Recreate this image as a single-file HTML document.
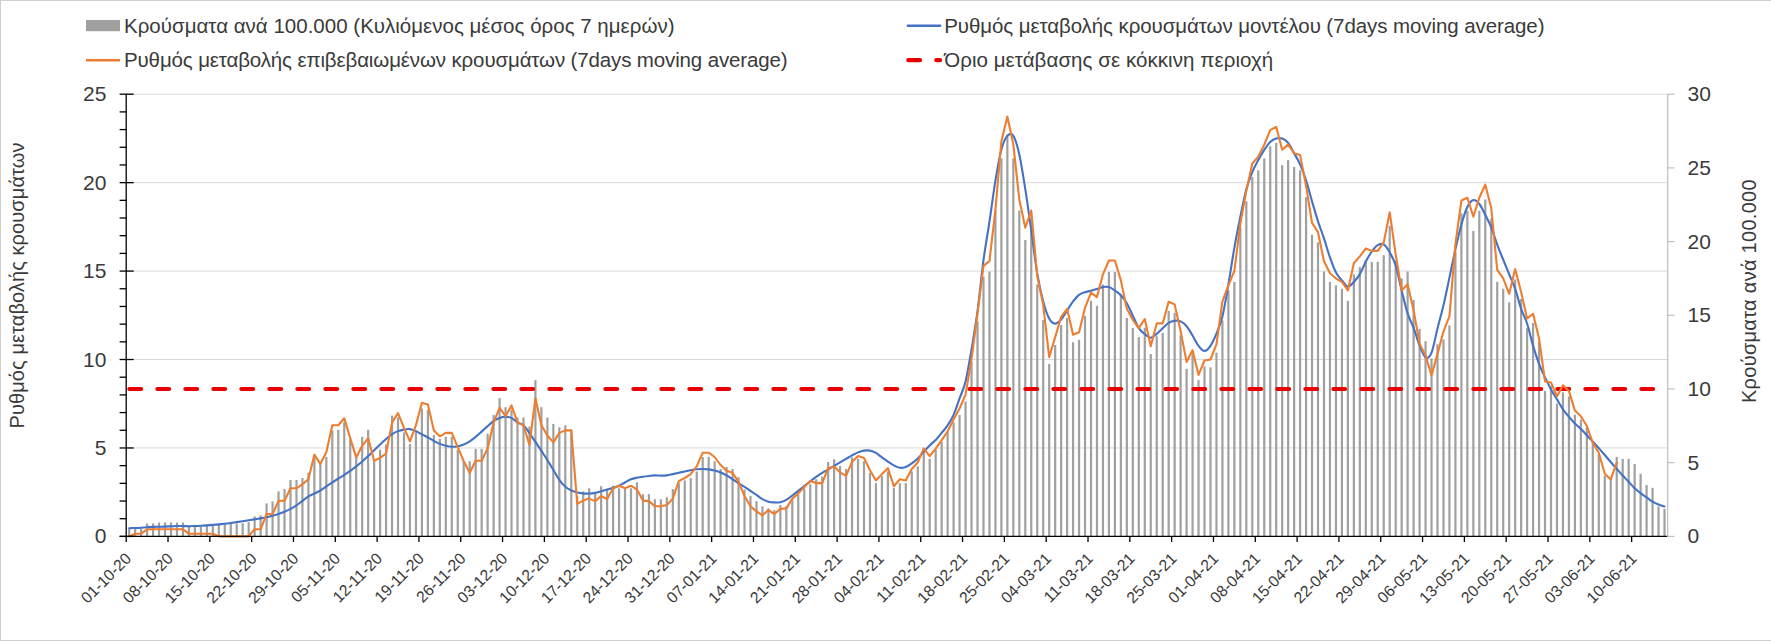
<!DOCTYPE html>
<html><head><meta charset="utf-8"><style>
html,body{margin:0;padding:0;background:#fff;}
body{width:1771px;height:641px;overflow:hidden;position:relative;}
.frame{position:absolute;left:0;top:0;width:1771px;height:641px;box-sizing:border-box;border-top:1px solid #CFCFCF;border-left:1px solid #CFCFCF;border-bottom:1px solid #CFCFCF;}
svg{position:absolute;left:0;top:0;font-family:"Liberation Sans", sans-serif;}
</style></head><body>
<div class="frame"></div>
<svg width="1771" height="641" viewBox="0 0 1771 641">
<line x1="126.20" y1="447.96" x2="1667.49" y2="447.96" stroke="#D9D9D9" stroke-width="1"/>
<line x1="126.20" y1="359.52" x2="1667.49" y2="359.52" stroke="#D9D9D9" stroke-width="1"/>
<line x1="126.20" y1="271.08" x2="1667.49" y2="271.08" stroke="#D9D9D9" stroke-width="1"/>
<line x1="126.20" y1="182.64" x2="1667.49" y2="182.64" stroke="#D9D9D9" stroke-width="1"/>
<line x1="126.20" y1="94.20" x2="1667.49" y2="94.20" stroke="#D9D9D9" stroke-width="1"/>
<rect x="128.09" y="528.80" width="2.2" height="7.60" fill="#A0A0A0"/>
<rect x="134.06" y="528.80" width="2.2" height="7.60" fill="#A0A0A0"/>
<rect x="140.03" y="528.80" width="2.2" height="7.60" fill="#A0A0A0"/>
<rect x="146.01" y="523.50" width="2.2" height="12.90" fill="#A0A0A0"/>
<rect x="151.98" y="523.50" width="2.2" height="12.90" fill="#A0A0A0"/>
<rect x="157.96" y="522.50" width="2.2" height="13.90" fill="#A0A0A0"/>
<rect x="163.93" y="522.50" width="2.2" height="13.90" fill="#A0A0A0"/>
<rect x="169.91" y="522.50" width="2.2" height="13.90" fill="#A0A0A0"/>
<rect x="175.88" y="522.50" width="2.2" height="13.90" fill="#A0A0A0"/>
<rect x="181.85" y="522.50" width="2.2" height="13.90" fill="#A0A0A0"/>
<rect x="187.83" y="526.40" width="2.2" height="10.00" fill="#A0A0A0"/>
<rect x="193.80" y="526.40" width="2.2" height="10.00" fill="#A0A0A0"/>
<rect x="199.78" y="526.40" width="2.2" height="10.00" fill="#A0A0A0"/>
<rect x="205.75" y="525.50" width="2.2" height="10.90" fill="#A0A0A0"/>
<rect x="211.72" y="525.50" width="2.2" height="10.90" fill="#A0A0A0"/>
<rect x="217.70" y="524.90" width="2.2" height="11.50" fill="#A0A0A0"/>
<rect x="223.67" y="524.40" width="2.2" height="12.00" fill="#A0A0A0"/>
<rect x="229.65" y="523.80" width="2.2" height="12.60" fill="#A0A0A0"/>
<rect x="235.62" y="523.60" width="2.2" height="12.80" fill="#A0A0A0"/>
<rect x="241.59" y="523.30" width="2.2" height="13.10" fill="#A0A0A0"/>
<rect x="247.57" y="522.20" width="2.2" height="14.20" fill="#A0A0A0"/>
<rect x="253.54" y="516.40" width="2.2" height="20.00" fill="#A0A0A0"/>
<rect x="259.51" y="515.30" width="2.2" height="21.10" fill="#A0A0A0"/>
<rect x="265.49" y="503.40" width="2.2" height="33.00" fill="#A0A0A0"/>
<rect x="271.46" y="501.40" width="2.2" height="35.00" fill="#A0A0A0"/>
<rect x="277.44" y="491.40" width="2.2" height="45.00" fill="#A0A0A0"/>
<rect x="283.41" y="489.00" width="2.2" height="47.40" fill="#A0A0A0"/>
<rect x="289.38" y="480.00" width="2.2" height="56.40" fill="#A0A0A0"/>
<rect x="295.36" y="480.00" width="2.2" height="56.40" fill="#A0A0A0"/>
<rect x="301.33" y="478.00" width="2.2" height="58.40" fill="#A0A0A0"/>
<rect x="307.31" y="472.80" width="2.2" height="63.60" fill="#A0A0A0"/>
<rect x="313.28" y="454.30" width="2.2" height="82.10" fill="#A0A0A0"/>
<rect x="319.25" y="463.80" width="2.2" height="72.60" fill="#A0A0A0"/>
<rect x="325.23" y="456.90" width="2.2" height="79.50" fill="#A0A0A0"/>
<rect x="331.20" y="430.40" width="2.2" height="106.00" fill="#A0A0A0"/>
<rect x="337.18" y="429.80" width="2.2" height="106.60" fill="#A0A0A0"/>
<rect x="343.15" y="422.10" width="2.2" height="114.30" fill="#A0A0A0"/>
<rect x="349.12" y="439.40" width="2.2" height="97.00" fill="#A0A0A0"/>
<rect x="355.10" y="457.40" width="2.2" height="79.00" fill="#A0A0A0"/>
<rect x="361.07" y="436.80" width="2.2" height="99.60" fill="#A0A0A0"/>
<rect x="367.05" y="429.80" width="2.2" height="106.60" fill="#A0A0A0"/>
<rect x="373.02" y="460.00" width="2.2" height="76.40" fill="#A0A0A0"/>
<rect x="379.00" y="449.70" width="2.2" height="86.70" fill="#A0A0A0"/>
<rect x="384.97" y="444.50" width="2.2" height="91.90" fill="#A0A0A0"/>
<rect x="390.94" y="415.70" width="2.2" height="120.70" fill="#A0A0A0"/>
<rect x="396.92" y="417.40" width="2.2" height="119.00" fill="#A0A0A0"/>
<rect x="402.89" y="432.40" width="2.2" height="104.00" fill="#A0A0A0"/>
<rect x="408.86" y="444.00" width="2.2" height="92.40" fill="#A0A0A0"/>
<rect x="414.84" y="431.60" width="2.2" height="104.80" fill="#A0A0A0"/>
<rect x="420.81" y="408.40" width="2.2" height="128.00" fill="#A0A0A0"/>
<rect x="426.79" y="409.80" width="2.2" height="126.60" fill="#A0A0A0"/>
<rect x="432.76" y="435.00" width="2.2" height="101.40" fill="#A0A0A0"/>
<rect x="438.73" y="438.80" width="2.2" height="97.60" fill="#A0A0A0"/>
<rect x="444.71" y="436.80" width="2.2" height="99.60" fill="#A0A0A0"/>
<rect x="450.68" y="436.80" width="2.2" height="99.60" fill="#A0A0A0"/>
<rect x="456.66" y="449.70" width="2.2" height="86.70" fill="#A0A0A0"/>
<rect x="462.63" y="461.20" width="2.2" height="75.20" fill="#A0A0A0"/>
<rect x="468.60" y="461.20" width="2.2" height="75.20" fill="#A0A0A0"/>
<rect x="474.58" y="448.90" width="2.2" height="87.50" fill="#A0A0A0"/>
<rect x="480.55" y="448.90" width="2.2" height="87.50" fill="#A0A0A0"/>
<rect x="486.53" y="433.70" width="2.2" height="102.70" fill="#A0A0A0"/>
<rect x="492.50" y="414.90" width="2.2" height="121.50" fill="#A0A0A0"/>
<rect x="498.47" y="398.20" width="2.2" height="138.20" fill="#A0A0A0"/>
<rect x="504.45" y="407.20" width="2.2" height="129.20" fill="#A0A0A0"/>
<rect x="510.42" y="409.80" width="2.2" height="126.60" fill="#A0A0A0"/>
<rect x="516.40" y="417.50" width="2.2" height="118.90" fill="#A0A0A0"/>
<rect x="522.37" y="417.50" width="2.2" height="118.90" fill="#A0A0A0"/>
<rect x="528.35" y="426.50" width="2.2" height="109.90" fill="#A0A0A0"/>
<rect x="534.32" y="380.20" width="2.2" height="156.20" fill="#A0A0A0"/>
<rect x="540.29" y="407.20" width="2.2" height="129.20" fill="#A0A0A0"/>
<rect x="546.27" y="417.50" width="2.2" height="118.90" fill="#A0A0A0"/>
<rect x="552.24" y="423.90" width="2.2" height="112.50" fill="#A0A0A0"/>
<rect x="558.22" y="427.30" width="2.2" height="109.10" fill="#A0A0A0"/>
<rect x="564.19" y="425.20" width="2.2" height="111.20" fill="#A0A0A0"/>
<rect x="570.16" y="429.60" width="2.2" height="106.80" fill="#A0A0A0"/>
<rect x="576.14" y="496.00" width="2.2" height="40.40" fill="#A0A0A0"/>
<rect x="582.11" y="491.40" width="2.2" height="45.00" fill="#A0A0A0"/>
<rect x="588.09" y="488.30" width="2.2" height="48.10" fill="#A0A0A0"/>
<rect x="594.06" y="493.40" width="2.2" height="43.00" fill="#A0A0A0"/>
<rect x="600.03" y="486.20" width="2.2" height="50.20" fill="#A0A0A0"/>
<rect x="606.01" y="489.60" width="2.2" height="46.80" fill="#A0A0A0"/>
<rect x="611.98" y="485.70" width="2.2" height="50.70" fill="#A0A0A0"/>
<rect x="617.96" y="488.30" width="2.2" height="48.10" fill="#A0A0A0"/>
<rect x="623.93" y="488.30" width="2.2" height="48.10" fill="#A0A0A0"/>
<rect x="629.90" y="488.30" width="2.2" height="48.10" fill="#A0A0A0"/>
<rect x="635.88" y="482.40" width="2.2" height="54.00" fill="#A0A0A0"/>
<rect x="641.85" y="494.20" width="2.2" height="42.20" fill="#A0A0A0"/>
<rect x="647.83" y="494.20" width="2.2" height="42.20" fill="#A0A0A0"/>
<rect x="653.80" y="499.30" width="2.2" height="37.10" fill="#A0A0A0"/>
<rect x="659.77" y="499.30" width="2.2" height="37.10" fill="#A0A0A0"/>
<rect x="665.75" y="497.30" width="2.2" height="39.10" fill="#A0A0A0"/>
<rect x="671.72" y="489.00" width="2.2" height="47.40" fill="#A0A0A0"/>
<rect x="677.70" y="483.10" width="2.2" height="53.30" fill="#A0A0A0"/>
<rect x="683.67" y="480.50" width="2.2" height="55.90" fill="#A0A0A0"/>
<rect x="689.64" y="478.00" width="2.2" height="58.40" fill="#A0A0A0"/>
<rect x="695.62" y="471.50" width="2.2" height="64.90" fill="#A0A0A0"/>
<rect x="701.59" y="456.90" width="2.2" height="79.50" fill="#A0A0A0"/>
<rect x="707.57" y="456.90" width="2.2" height="79.50" fill="#A0A0A0"/>
<rect x="713.54" y="461.20" width="2.2" height="75.20" fill="#A0A0A0"/>
<rect x="719.51" y="469.00" width="2.2" height="67.40" fill="#A0A0A0"/>
<rect x="725.49" y="466.90" width="2.2" height="69.50" fill="#A0A0A0"/>
<rect x="731.46" y="469.00" width="2.2" height="67.40" fill="#A0A0A0"/>
<rect x="737.44" y="477.20" width="2.2" height="59.20" fill="#A0A0A0"/>
<rect x="743.41" y="489.60" width="2.2" height="46.80" fill="#A0A0A0"/>
<rect x="749.38" y="496.00" width="2.2" height="40.40" fill="#A0A0A0"/>
<rect x="755.36" y="501.10" width="2.2" height="35.30" fill="#A0A0A0"/>
<rect x="761.33" y="506.30" width="2.2" height="30.10" fill="#A0A0A0"/>
<rect x="767.31" y="508.40" width="2.2" height="28.00" fill="#A0A0A0"/>
<rect x="773.28" y="510.10" width="2.2" height="26.30" fill="#A0A0A0"/>
<rect x="779.25" y="505.00" width="2.2" height="31.40" fill="#A0A0A0"/>
<rect x="785.23" y="506.30" width="2.2" height="30.10" fill="#A0A0A0"/>
<rect x="791.20" y="498.60" width="2.2" height="37.80" fill="#A0A0A0"/>
<rect x="797.18" y="494.70" width="2.2" height="41.70" fill="#A0A0A0"/>
<rect x="803.15" y="488.30" width="2.2" height="48.10" fill="#A0A0A0"/>
<rect x="809.12" y="484.40" width="2.2" height="52.00" fill="#A0A0A0"/>
<rect x="815.10" y="479.30" width="2.2" height="57.10" fill="#A0A0A0"/>
<rect x="821.07" y="476.70" width="2.2" height="59.70" fill="#A0A0A0"/>
<rect x="827.05" y="462.00" width="2.2" height="74.40" fill="#A0A0A0"/>
<rect x="833.02" y="459.20" width="2.2" height="77.20" fill="#A0A0A0"/>
<rect x="838.99" y="465.90" width="2.2" height="70.50" fill="#A0A0A0"/>
<rect x="844.97" y="469.00" width="2.2" height="67.40" fill="#A0A0A0"/>
<rect x="850.94" y="457.40" width="2.2" height="79.00" fill="#A0A0A0"/>
<rect x="856.92" y="458.70" width="2.2" height="77.70" fill="#A0A0A0"/>
<rect x="862.89" y="461.20" width="2.2" height="75.20" fill="#A0A0A0"/>
<rect x="868.86" y="472.80" width="2.2" height="63.60" fill="#A0A0A0"/>
<rect x="874.84" y="483.10" width="2.2" height="53.30" fill="#A0A0A0"/>
<rect x="880.81" y="476.20" width="2.2" height="60.20" fill="#A0A0A0"/>
<rect x="886.79" y="471.50" width="2.2" height="64.90" fill="#A0A0A0"/>
<rect x="892.76" y="487.80" width="2.2" height="48.60" fill="#A0A0A0"/>
<rect x="898.73" y="483.10" width="2.2" height="53.30" fill="#A0A0A0"/>
<rect x="904.71" y="483.10" width="2.2" height="53.30" fill="#A0A0A0"/>
<rect x="910.68" y="471.50" width="2.2" height="64.90" fill="#A0A0A0"/>
<rect x="916.66" y="466.40" width="2.2" height="70.00" fill="#A0A0A0"/>
<rect x="922.63" y="452.20" width="2.2" height="84.20" fill="#A0A0A0"/>
<rect x="928.60" y="458.70" width="2.2" height="77.70" fill="#A0A0A0"/>
<rect x="934.58" y="449.70" width="2.2" height="86.70" fill="#A0A0A0"/>
<rect x="940.55" y="441.80" width="2.2" height="94.60" fill="#A0A0A0"/>
<rect x="946.53" y="431.50" width="2.2" height="104.90" fill="#A0A0A0"/>
<rect x="952.50" y="422.30" width="2.2" height="114.10" fill="#A0A0A0"/>
<rect x="958.47" y="415.10" width="2.2" height="121.30" fill="#A0A0A0"/>
<rect x="964.45" y="401.40" width="2.2" height="135.00" fill="#A0A0A0"/>
<rect x="970.42" y="361.40" width="2.2" height="175.00" fill="#A0A0A0"/>
<rect x="976.40" y="321.40" width="2.2" height="215.00" fill="#A0A0A0"/>
<rect x="982.37" y="276.70" width="2.2" height="259.70" fill="#A0A0A0"/>
<rect x="988.34" y="271.60" width="2.2" height="264.80" fill="#A0A0A0"/>
<rect x="994.32" y="210.50" width="2.2" height="325.90" fill="#A0A0A0"/>
<rect x="1000.29" y="158.40" width="2.2" height="378.00" fill="#A0A0A0"/>
<rect x="1006.27" y="134.40" width="2.2" height="402.00" fill="#A0A0A0"/>
<rect x="1012.24" y="158.40" width="2.2" height="378.00" fill="#A0A0A0"/>
<rect x="1018.21" y="210.50" width="2.2" height="325.90" fill="#A0A0A0"/>
<rect x="1024.19" y="240.00" width="2.2" height="296.40" fill="#A0A0A0"/>
<rect x="1030.16" y="221.80" width="2.2" height="314.60" fill="#A0A0A0"/>
<rect x="1036.14" y="284.40" width="2.2" height="252.00" fill="#A0A0A0"/>
<rect x="1042.11" y="320.00" width="2.2" height="216.40" fill="#A0A0A0"/>
<rect x="1048.08" y="364.00" width="2.2" height="172.40" fill="#A0A0A0"/>
<rect x="1054.06" y="344.90" width="2.2" height="191.50" fill="#A0A0A0"/>
<rect x="1060.03" y="325.00" width="2.2" height="211.40" fill="#A0A0A0"/>
<rect x="1066.01" y="318.00" width="2.2" height="218.40" fill="#A0A0A0"/>
<rect x="1071.98" y="342.30" width="2.2" height="194.10" fill="#A0A0A0"/>
<rect x="1077.95" y="339.90" width="2.2" height="196.50" fill="#A0A0A0"/>
<rect x="1083.93" y="315.90" width="2.2" height="220.50" fill="#A0A0A0"/>
<rect x="1089.90" y="300.70" width="2.2" height="235.70" fill="#A0A0A0"/>
<rect x="1095.88" y="305.80" width="2.2" height="230.60" fill="#A0A0A0"/>
<rect x="1101.85" y="284.50" width="2.2" height="251.90" fill="#A0A0A0"/>
<rect x="1107.82" y="271.90" width="2.2" height="264.50" fill="#A0A0A0"/>
<rect x="1113.80" y="271.90" width="2.2" height="264.50" fill="#A0A0A0"/>
<rect x="1119.77" y="294.60" width="2.2" height="241.80" fill="#A0A0A0"/>
<rect x="1125.75" y="318.00" width="2.2" height="218.40" fill="#A0A0A0"/>
<rect x="1131.72" y="328.10" width="2.2" height="208.30" fill="#A0A0A0"/>
<rect x="1137.69" y="337.20" width="2.2" height="199.20" fill="#A0A0A0"/>
<rect x="1143.67" y="327.70" width="2.2" height="208.70" fill="#A0A0A0"/>
<rect x="1149.64" y="354.00" width="2.2" height="182.40" fill="#A0A0A0"/>
<rect x="1155.62" y="336.20" width="2.2" height="200.20" fill="#A0A0A0"/>
<rect x="1161.59" y="332.80" width="2.2" height="203.60" fill="#A0A0A0"/>
<rect x="1167.56" y="310.90" width="2.2" height="225.50" fill="#A0A0A0"/>
<rect x="1173.54" y="312.90" width="2.2" height="223.50" fill="#A0A0A0"/>
<rect x="1179.51" y="335.20" width="2.2" height="201.20" fill="#A0A0A0"/>
<rect x="1185.49" y="368.80" width="2.2" height="167.60" fill="#A0A0A0"/>
<rect x="1191.46" y="354.40" width="2.2" height="182.00" fill="#A0A0A0"/>
<rect x="1197.43" y="380.10" width="2.2" height="156.30" fill="#A0A0A0"/>
<rect x="1203.41" y="366.40" width="2.2" height="170.00" fill="#A0A0A0"/>
<rect x="1209.38" y="367.40" width="2.2" height="169.00" fill="#A0A0A0"/>
<rect x="1215.36" y="352.60" width="2.2" height="183.80" fill="#A0A0A0"/>
<rect x="1221.33" y="320.40" width="2.2" height="216.00" fill="#A0A0A0"/>
<rect x="1227.30" y="290.50" width="2.2" height="245.90" fill="#A0A0A0"/>
<rect x="1233.28" y="281.90" width="2.2" height="254.50" fill="#A0A0A0"/>
<rect x="1239.25" y="227.70" width="2.2" height="308.70" fill="#A0A0A0"/>
<rect x="1245.23" y="201.20" width="2.2" height="335.20" fill="#A0A0A0"/>
<rect x="1251.20" y="177.20" width="2.2" height="359.20" fill="#A0A0A0"/>
<rect x="1257.17" y="170.30" width="2.2" height="366.10" fill="#A0A0A0"/>
<rect x="1263.15" y="158.40" width="2.2" height="378.00" fill="#A0A0A0"/>
<rect x="1269.12" y="146.30" width="2.2" height="390.10" fill="#A0A0A0"/>
<rect x="1275.10" y="142.90" width="2.2" height="393.50" fill="#A0A0A0"/>
<rect x="1281.07" y="165.20" width="2.2" height="371.20" fill="#A0A0A0"/>
<rect x="1287.04" y="160.10" width="2.2" height="376.30" fill="#A0A0A0"/>
<rect x="1293.02" y="166.90" width="2.2" height="369.50" fill="#A0A0A0"/>
<rect x="1298.99" y="170.30" width="2.2" height="366.10" fill="#A0A0A0"/>
<rect x="1304.97" y="197.10" width="2.2" height="339.30" fill="#A0A0A0"/>
<rect x="1310.94" y="234.80" width="2.2" height="301.60" fill="#A0A0A0"/>
<rect x="1316.91" y="242.40" width="2.2" height="294.00" fill="#A0A0A0"/>
<rect x="1322.89" y="271.60" width="2.2" height="264.80" fill="#A0A0A0"/>
<rect x="1328.86" y="281.90" width="2.2" height="254.50" fill="#A0A0A0"/>
<rect x="1334.84" y="285.30" width="2.2" height="251.10" fill="#A0A0A0"/>
<rect x="1340.81" y="288.80" width="2.2" height="247.60" fill="#A0A0A0"/>
<rect x="1346.78" y="300.80" width="2.2" height="235.60" fill="#A0A0A0"/>
<rect x="1352.76" y="274.40" width="2.2" height="262.00" fill="#A0A0A0"/>
<rect x="1358.73" y="267.10" width="2.2" height="269.30" fill="#A0A0A0"/>
<rect x="1364.71" y="260.10" width="2.2" height="276.30" fill="#A0A0A0"/>
<rect x="1370.68" y="261.90" width="2.2" height="274.50" fill="#A0A0A0"/>
<rect x="1376.65" y="261.90" width="2.2" height="274.50" fill="#A0A0A0"/>
<rect x="1382.63" y="255.10" width="2.2" height="281.30" fill="#A0A0A0"/>
<rect x="1388.60" y="225.90" width="2.2" height="310.50" fill="#A0A0A0"/>
<rect x="1394.58" y="260.40" width="2.2" height="276.00" fill="#A0A0A0"/>
<rect x="1400.55" y="278.40" width="2.2" height="258.00" fill="#A0A0A0"/>
<rect x="1406.52" y="271.50" width="2.2" height="264.90" fill="#A0A0A0"/>
<rect x="1412.50" y="300.00" width="2.2" height="236.40" fill="#A0A0A0"/>
<rect x="1418.47" y="328.80" width="2.2" height="207.60" fill="#A0A0A0"/>
<rect x="1424.45" y="341.20" width="2.2" height="195.20" fill="#A0A0A0"/>
<rect x="1430.42" y="358.40" width="2.2" height="178.00" fill="#A0A0A0"/>
<rect x="1436.39" y="344.30" width="2.2" height="192.10" fill="#A0A0A0"/>
<rect x="1442.37" y="339.50" width="2.2" height="196.90" fill="#A0A0A0"/>
<rect x="1448.34" y="325.40" width="2.2" height="211.00" fill="#A0A0A0"/>
<rect x="1454.32" y="251.40" width="2.2" height="285.00" fill="#A0A0A0"/>
<rect x="1460.29" y="213.20" width="2.2" height="323.20" fill="#A0A0A0"/>
<rect x="1466.26" y="210.80" width="2.2" height="325.60" fill="#A0A0A0"/>
<rect x="1472.24" y="231.00" width="2.2" height="305.40" fill="#A0A0A0"/>
<rect x="1478.21" y="210.80" width="2.2" height="325.60" fill="#A0A0A0"/>
<rect x="1484.19" y="199.50" width="2.2" height="336.90" fill="#A0A0A0"/>
<rect x="1490.16" y="218.40" width="2.2" height="318.00" fill="#A0A0A0"/>
<rect x="1496.13" y="281.80" width="2.2" height="254.60" fill="#A0A0A0"/>
<rect x="1502.11" y="288.70" width="2.2" height="247.70" fill="#A0A0A0"/>
<rect x="1508.08" y="302.40" width="2.2" height="234.00" fill="#A0A0A0"/>
<rect x="1514.06" y="279.40" width="2.2" height="257.00" fill="#A0A0A0"/>
<rect x="1520.03" y="299.00" width="2.2" height="237.40" fill="#A0A0A0"/>
<rect x="1526.00" y="328.20" width="2.2" height="208.20" fill="#A0A0A0"/>
<rect x="1531.98" y="323.00" width="2.2" height="213.40" fill="#A0A0A0"/>
<rect x="1537.95" y="341.90" width="2.2" height="194.50" fill="#A0A0A0"/>
<rect x="1543.93" y="390.90" width="2.2" height="145.50" fill="#A0A0A0"/>
<rect x="1549.90" y="386.40" width="2.2" height="150.00" fill="#A0A0A0"/>
<rect x="1555.87" y="403.50" width="2.2" height="132.90" fill="#A0A0A0"/>
<rect x="1561.85" y="392.30" width="2.2" height="144.10" fill="#A0A0A0"/>
<rect x="1567.82" y="396.50" width="2.2" height="139.90" fill="#A0A0A0"/>
<rect x="1573.80" y="414.80" width="2.2" height="121.60" fill="#A0A0A0"/>
<rect x="1579.77" y="419.60" width="2.2" height="116.80" fill="#A0A0A0"/>
<rect x="1585.74" y="427.40" width="2.2" height="109.00" fill="#A0A0A0"/>
<rect x="1591.72" y="441.50" width="2.2" height="94.90" fill="#A0A0A0"/>
<rect x="1597.69" y="454.10" width="2.2" height="82.30" fill="#A0A0A0"/>
<rect x="1603.67" y="475.70" width="2.2" height="60.70" fill="#A0A0A0"/>
<rect x="1609.64" y="478.00" width="2.2" height="58.40" fill="#A0A0A0"/>
<rect x="1615.61" y="456.90" width="2.2" height="79.50" fill="#A0A0A0"/>
<rect x="1621.59" y="458.90" width="2.2" height="77.50" fill="#A0A0A0"/>
<rect x="1627.56" y="458.90" width="2.2" height="77.50" fill="#A0A0A0"/>
<rect x="1633.54" y="463.90" width="2.2" height="72.50" fill="#A0A0A0"/>
<rect x="1639.51" y="473.80" width="2.2" height="62.60" fill="#A0A0A0"/>
<rect x="1645.48" y="485.00" width="2.2" height="51.40" fill="#A0A0A0"/>
<rect x="1651.46" y="487.80" width="2.2" height="48.60" fill="#A0A0A0"/>
<rect x="1657.43" y="506.60" width="2.2" height="29.80" fill="#A0A0A0"/>
<rect x="1663.41" y="508.90" width="2.2" height="27.50" fill="#A0A0A0"/>
<line x1="129.40" y1="389.00" x2="1656.00" y2="389.00" stroke="#E80000" stroke-width="4.2" stroke-linecap="round" stroke-dasharray="11.7 16.3"/>
<path d="M129.19,528.20 C130.18,528.16 133.17,528.07 135.16,527.98 C137.15,527.90 139.14,527.82 141.13,527.70 C143.13,527.58 145.12,527.43 147.11,527.29 C149.10,527.16 151.09,526.99 153.08,526.90 C155.07,526.81 157.07,526.78 159.06,526.73 C161.05,526.68 163.04,526.67 165.03,526.60 C167.02,526.53 169.01,526.39 171.00,526.29 C173.00,526.19 174.99,526.04 176.98,526.00 C178.97,525.96 180.96,526.05 182.95,526.08 C184.94,526.11 186.94,526.20 188.93,526.20 C190.92,526.20 192.91,526.14 194.90,526.07 C196.89,526.00 198.88,525.91 200.88,525.80 C202.87,525.69 204.86,525.54 206.85,525.39 C208.84,525.24 210.83,525.07 212.82,524.90 C214.81,524.73 216.81,524.55 218.80,524.35 C220.79,524.15 222.78,523.93 224.77,523.70 C226.76,523.47 228.75,523.21 230.75,522.94 C232.74,522.67 234.73,522.39 236.72,522.10 C238.71,521.81 240.70,521.51 242.69,521.21 C244.68,520.91 246.68,520.61 248.67,520.30 C250.66,519.99 252.65,519.68 254.64,519.37 C256.63,519.05 258.62,518.76 260.62,518.40 C262.61,518.04 264.60,517.65 266.59,517.22 C268.58,516.79 270.57,516.33 272.56,515.80 C274.55,515.27 276.55,514.71 278.54,514.04 C280.53,513.37 282.52,512.65 284.51,511.80 C286.50,510.95 288.49,510.00 290.49,508.94 C292.48,507.87 294.47,506.74 296.46,505.40 C298.45,504.06 300.44,502.37 302.43,500.87 C304.42,499.37 306.42,497.63 308.41,496.40 C310.40,495.17 312.39,494.49 314.38,493.51 C316.37,492.53 318.36,491.68 320.36,490.50 C322.35,489.32 324.34,487.79 326.33,486.44 C328.32,485.09 330.31,483.71 332.30,482.40 C334.29,481.09 336.29,479.87 338.28,478.60 C340.27,477.34 342.26,476.11 344.25,474.80 C346.24,473.49 348.23,472.17 350.23,470.77 C352.22,469.37 354.21,467.95 356.20,466.40 C358.19,464.85 360.18,463.21 362.17,461.49 C364.16,459.78 366.16,457.96 368.15,456.10 C370.14,454.24 372.13,452.27 374.12,450.34 C376.11,448.40 378.10,446.38 380.10,444.50 C382.09,442.62 384.08,440.75 386.07,439.03 C388.06,437.31 390.05,435.52 392.04,434.20 C394.03,432.88 396.03,431.90 398.02,431.14 C400.01,430.37 402.00,429.94 403.99,429.60 C405.98,429.26 407.97,428.85 409.96,429.10 C411.96,429.35 413.95,430.22 415.94,431.10 C417.93,431.98 419.92,433.35 421.91,434.40 C423.90,435.45 425.90,436.32 427.89,437.40 C429.88,438.48 431.87,439.82 433.86,440.90 C435.85,441.98 437.84,443.08 439.83,443.90 C441.83,444.72 443.82,445.32 445.81,445.80 C447.80,446.28 449.79,446.73 451.78,446.80 C453.77,446.87 455.77,446.58 457.76,446.20 C459.75,445.82 461.74,445.30 463.73,444.50 C465.72,443.70 467.71,442.67 469.70,441.40 C471.70,440.13 473.69,438.53 475.68,436.90 C477.67,435.27 479.66,433.40 481.65,431.60 C483.64,429.80 485.64,427.85 487.63,426.10 C489.62,424.35 491.61,422.47 493.60,421.10 C495.59,419.73 497.58,418.62 499.57,417.90 C501.57,417.18 503.56,416.80 505.55,416.80 C507.54,416.80 509.53,416.97 511.52,417.90 C513.51,418.83 515.51,421.18 517.50,422.40 C519.49,423.62 521.48,423.43 523.47,425.20 C525.46,426.97 527.45,430.21 529.45,432.99 C531.44,435.78 533.43,438.92 535.42,441.90 C537.41,444.88 539.40,447.88 541.39,450.90 C543.38,453.91 545.38,456.82 547.37,460.00 C549.36,463.18 551.35,466.66 553.34,469.98 C555.33,473.30 557.32,477.10 559.32,479.90 C561.31,482.70 563.30,485.03 565.29,486.78 C567.28,488.53 569.27,489.45 571.26,490.40 C573.25,491.35 575.25,491.97 577.24,492.47 C579.23,492.97 581.22,493.22 583.21,493.40 C585.20,493.58 587.19,493.65 589.19,493.57 C591.18,493.48 593.17,493.27 595.16,492.90 C597.15,492.53 599.14,491.89 601.13,491.34 C603.12,490.79 605.12,490.20 607.11,489.60 C609.10,489.00 611.09,488.38 613.08,487.73 C615.07,487.08 617.06,486.58 619.06,485.70 C621.05,484.82 623.04,483.52 625.03,482.46 C627.02,481.39 629.01,480.09 631.00,479.30 C632.99,478.51 634.99,478.15 636.98,477.72 C638.97,477.28 640.96,476.99 642.95,476.70 C644.94,476.41 646.93,476.17 648.93,475.95 C650.92,475.74 652.91,475.46 654.90,475.40 C656.89,475.34 658.88,475.62 660.87,475.62 C662.86,475.62 664.86,475.65 666.85,475.40 C668.84,475.15 670.83,474.53 672.82,474.10 C674.81,473.67 676.80,473.23 678.80,472.80 C680.79,472.37 682.78,471.93 684.77,471.50 C686.76,471.07 688.75,470.56 690.74,470.20 C692.73,469.84 694.73,469.52 696.72,469.32 C698.71,469.12 700.70,468.99 702.69,469.00 C704.68,469.01 706.67,469.09 708.67,469.36 C710.66,469.63 712.65,470.09 714.64,470.60 C716.63,471.11 718.62,471.63 720.61,472.43 C722.60,473.23 724.60,474.26 726.59,475.40 C728.58,476.54 730.57,477.97 732.56,479.25 C734.55,480.53 736.54,481.82 738.54,483.10 C740.53,484.38 742.52,485.67 744.51,486.95 C746.50,488.23 748.49,489.47 750.48,490.80 C752.47,492.13 754.47,493.55 756.46,494.93 C758.45,496.32 760.44,497.98 762.43,499.10 C764.42,500.22 766.41,501.09 768.41,501.64 C770.40,502.19 772.39,502.30 774.38,502.40 C776.37,502.50 778.36,502.66 780.35,502.23 C782.34,501.79 784.34,500.92 786.33,499.80 C788.32,498.68 790.31,496.97 792.30,495.49 C794.29,494.00 796.28,492.46 798.28,490.90 C800.27,489.34 802.26,487.71 804.25,486.12 C806.24,484.54 808.23,482.94 810.22,481.40 C812.21,479.86 814.21,478.29 816.20,476.87 C818.19,475.46 820.18,474.15 822.17,472.90 C824.16,471.65 826.15,470.57 828.15,469.40 C830.14,468.23 832.13,467.07 834.12,465.90 C836.11,464.73 838.10,463.57 840.09,462.40 C842.08,461.23 844.08,460.07 846.07,458.90 C848.06,457.73 850.05,456.48 852.04,455.40 C854.03,454.32 856.02,453.20 858.02,452.40 C860.01,451.60 862.00,450.90 863.99,450.60 C865.98,450.30 867.97,450.22 869.96,450.60 C871.95,450.98 873.95,451.77 875.94,452.90 C877.93,454.03 879.92,455.97 881.91,457.40 C883.90,458.83 885.89,460.17 887.89,461.51 C889.88,462.84 891.87,464.35 893.86,465.40 C895.85,466.45 897.84,467.55 899.83,467.80 C901.82,468.05 903.82,467.63 905.81,466.90 C907.80,466.17 909.79,464.84 911.78,463.42 C913.77,462.01 915.76,460.32 917.76,458.40 C919.75,456.48 921.74,454.05 923.73,451.88 C925.72,449.71 927.71,447.40 929.70,445.40 C931.69,443.40 933.69,441.98 935.68,439.90 C937.67,437.82 939.66,435.32 941.65,432.90 C943.64,430.48 945.63,428.40 947.63,425.40 C949.62,422.40 951.61,419.40 953.60,414.90 C955.59,410.40 957.58,403.98 959.57,398.40 C961.56,392.82 963.56,389.57 965.55,381.40 C967.54,373.23 969.53,361.07 971.52,349.40 C973.51,337.73 975.50,326.23 977.50,311.40 C979.49,296.57 981.48,275.33 983.47,260.40 C985.46,245.47 987.45,235.10 989.44,221.80 C991.43,208.50 993.43,192.67 995.42,180.60 C997.41,168.53 999.40,156.85 1001.39,149.40 C1003.38,141.95 1005.37,138.15 1007.37,135.90 C1009.36,133.65 1011.35,132.82 1013.34,135.90 C1015.33,138.98 1017.32,145.52 1019.31,154.40 C1021.30,163.28 1023.30,176.53 1025.29,189.20 C1027.28,201.87 1029.27,216.37 1031.26,230.40 C1033.25,244.43 1035.24,261.57 1037.24,273.40 C1039.23,285.23 1041.22,293.90 1043.21,301.40 C1045.20,308.90 1047.19,314.70 1049.18,318.40 C1051.17,322.10 1053.17,323.42 1055.16,323.60 C1057.15,323.78 1059.14,321.70 1061.13,319.50 C1063.12,317.30 1065.11,313.42 1067.11,310.40 C1069.10,307.38 1071.09,304.00 1073.08,301.40 C1075.07,298.80 1077.06,296.33 1079.05,294.80 C1081.04,293.27 1083.04,292.87 1085.03,292.20 C1087.02,291.53 1089.01,291.35 1091.00,290.80 C1092.99,290.25 1094.98,289.53 1096.97,288.90 C1098.97,288.27 1100.96,287.32 1102.95,287.00 C1104.94,286.68 1106.93,286.40 1108.92,287.00 C1110.91,287.60 1112.91,289.23 1114.90,290.60 C1116.89,291.97 1118.88,293.10 1120.87,295.20 C1122.86,297.30 1124.85,299.78 1126.85,303.20 C1128.84,306.62 1130.83,311.55 1132.82,315.70 C1134.81,319.85 1136.80,325.03 1138.79,328.10 C1140.78,331.17 1142.78,332.50 1144.77,334.10 C1146.76,335.70 1148.75,337.73 1150.74,337.70 C1152.73,337.67 1154.72,335.48 1156.72,333.90 C1158.71,332.32 1160.70,330.03 1162.69,328.20 C1164.68,326.37 1166.67,324.15 1168.66,322.90 C1170.65,321.65 1172.65,320.95 1174.64,320.70 C1176.63,320.45 1178.62,320.48 1180.61,321.40 C1182.60,322.32 1184.59,323.85 1186.59,326.20 C1188.58,328.55 1190.57,332.23 1192.56,335.50 C1194.55,338.77 1196.54,343.23 1198.53,345.80 C1200.52,348.37 1202.52,350.90 1204.51,350.90 C1206.50,350.90 1208.49,348.67 1210.48,345.80 C1212.47,342.93 1214.46,338.60 1216.46,333.70 C1218.45,328.80 1220.44,324.62 1222.43,316.40 C1224.42,308.18 1226.41,295.87 1228.40,284.40 C1230.39,272.93 1232.39,258.87 1234.38,247.60 C1236.37,236.33 1238.36,226.52 1240.35,216.80 C1242.34,207.08 1244.33,196.75 1246.33,189.30 C1248.32,181.85 1250.31,176.97 1252.30,172.10 C1254.29,167.23 1256.28,163.82 1258.27,160.10 C1260.26,156.38 1262.26,152.83 1264.25,149.80 C1266.24,146.77 1268.23,143.78 1270.22,141.90 C1272.21,140.02 1274.20,139.07 1276.20,138.50 C1278.19,137.93 1280.18,137.77 1282.17,138.50 C1284.16,139.23 1286.15,140.45 1288.14,142.90 C1290.13,145.35 1292.13,149.62 1294.12,153.20 C1296.11,156.78 1298.10,159.87 1300.09,164.40 C1302.08,168.93 1304.07,174.23 1306.07,180.40 C1308.06,186.57 1310.05,194.57 1312.04,201.40 C1314.03,208.23 1316.02,215.23 1318.01,221.40 C1320.00,227.57 1322.00,232.40 1323.99,238.40 C1325.98,244.40 1327.97,251.73 1329.96,257.40 C1331.95,263.07 1333.94,268.57 1335.94,272.40 C1337.93,276.23 1339.92,278.03 1341.91,280.40 C1343.90,282.77 1345.89,286.35 1347.88,286.60 C1349.87,286.85 1351.87,283.98 1353.86,281.90 C1355.85,279.82 1357.84,277.48 1359.83,274.10 C1361.82,270.72 1363.81,265.37 1365.81,261.60 C1367.80,257.83 1369.79,254.23 1371.78,251.50 C1373.77,248.77 1375.76,246.38 1377.75,245.20 C1379.74,244.02 1381.74,243.22 1383.73,244.40 C1385.72,245.58 1387.71,248.78 1389.70,252.30 C1391.69,255.82 1393.68,259.15 1395.68,265.50 C1397.67,271.85 1399.66,282.42 1401.65,290.40 C1403.64,298.38 1405.63,307.15 1407.62,313.40 C1409.61,319.65 1411.61,322.58 1413.60,327.90 C1415.59,333.22 1417.58,340.40 1419.57,345.30 C1421.56,350.20 1423.55,356.03 1425.55,357.30 C1427.54,358.57 1429.53,357.72 1431.52,352.90 C1433.51,348.08 1435.50,336.33 1437.49,328.40 C1439.48,320.47 1441.48,313.77 1443.47,305.30 C1445.46,296.83 1447.45,286.93 1449.44,277.60 C1451.43,268.27 1453.42,258.15 1455.42,249.30 C1457.41,240.45 1459.40,231.55 1461.39,224.50 C1463.38,217.45 1465.37,211.08 1467.36,207.00 C1469.35,202.92 1471.35,200.50 1473.34,200.00 C1475.33,199.50 1477.32,201.53 1479.31,204.00 C1481.30,206.47 1483.29,210.90 1485.29,214.80 C1487.28,218.70 1489.27,222.42 1491.26,227.40 C1493.25,232.38 1495.24,239.32 1497.23,244.70 C1499.22,250.08 1501.22,254.77 1503.21,259.70 C1505.20,264.63 1507.19,269.45 1509.18,274.30 C1511.17,279.15 1513.16,283.05 1515.16,288.80 C1517.15,294.55 1519.14,303.02 1521.13,308.80 C1523.12,314.58 1525.11,317.32 1527.10,323.50 C1529.09,329.68 1531.09,339.17 1533.08,345.90 C1535.07,352.63 1537.06,358.65 1539.05,363.90 C1541.04,369.15 1543.03,373.15 1545.03,377.40 C1547.02,381.65 1549.01,385.73 1551.00,389.40 C1552.99,393.07 1554.98,396.08 1556.97,399.40 C1558.96,402.72 1560.96,406.38 1562.95,409.30 C1564.94,412.22 1566.93,414.55 1568.92,416.90 C1570.91,419.25 1572.90,421.40 1574.89,423.40 C1576.89,425.40 1578.88,426.93 1580.87,428.90 C1582.86,430.87 1584.85,433.08 1586.84,435.20 C1588.83,437.32 1590.83,439.45 1592.82,441.60 C1594.81,443.75 1596.80,445.87 1598.79,448.10 C1600.78,450.33 1602.77,452.68 1604.77,455.00 C1606.76,457.32 1608.75,459.68 1610.74,462.00 C1612.73,464.32 1614.72,466.65 1616.71,468.90 C1618.70,471.15 1620.70,473.35 1622.69,475.50 C1624.68,477.65 1626.67,479.68 1628.66,481.80 C1630.65,483.92 1632.64,486.30 1634.63,488.20 C1636.63,490.10 1638.62,491.67 1640.61,493.20 C1642.60,494.73 1644.59,496.00 1646.58,497.40 C1648.57,498.80 1650.57,500.42 1652.56,501.60 C1654.55,502.78 1656.54,503.68 1658.53,504.50 C1660.52,505.32 1663.51,506.17 1664.51,506.50" fill="none" stroke="#4472C4" stroke-width="2.1" stroke-linejoin="round" stroke-linecap="round"/>
<polyline points="129.19,536.40 135.16,533.70 141.13,533.70 147.11,529.30 153.08,529.30 159.06,529.30 165.03,529.30 171.00,529.30 176.98,529.30 182.95,529.30 188.93,533.70 194.90,533.70 200.88,533.70 206.85,533.70 212.82,533.70 218.80,536.40 224.77,536.40 230.75,536.40 236.72,536.40 242.69,536.40 248.67,536.40 254.64,529.30 260.62,529.30 266.59,514.00 272.56,514.00 278.54,500.90 284.51,500.70 290.49,488.30 296.46,488.30 302.43,484.40 308.41,479.30 314.38,454.80 320.36,463.80 326.33,452.20 332.30,425.20 338.28,425.20 344.25,418.30 350.23,438.10 356.20,457.40 362.17,445.80 368.15,438.10 374.12,460.70 380.10,457.90 386.07,453.50 392.04,422.60 398.02,413.10 403.99,427.80 409.96,441.40 415.94,425.20 421.91,402.80 427.89,404.60 433.86,430.40 439.83,436.30 445.81,432.90 451.78,432.90 457.76,447.10 463.73,461.20 469.70,472.80 475.68,460.70 481.65,460.70 487.63,448.40 493.60,422.60 499.57,407.90 505.55,416.20 511.52,405.40 517.50,422.60 523.47,425.20 529.45,445.00 535.42,398.20 541.39,425.20 547.37,435.50 553.34,442.40 559.32,432.90 565.29,430.40 571.26,430.40 577.24,503.70 583.21,500.60 589.19,498.60 595.16,501.10 601.13,496.00 607.11,499.10 613.08,488.30 619.06,485.70 625.03,488.30 631.00,485.70 636.98,489.60 642.95,500.60 648.93,501.10 654.90,506.30 660.87,506.30 666.85,505.00 672.82,498.60 678.80,481.10 684.77,478.00 690.74,474.10 696.72,466.40 702.69,452.70 708.67,452.70 714.64,457.00 720.61,465.10 726.59,470.80 732.56,472.80 738.54,481.80 744.51,496.00 750.48,506.30 756.46,511.40 762.43,515.30 768.41,510.10 774.38,514.00 780.35,508.90 786.33,508.40 792.30,498.60 798.28,493.40 804.25,487.00 810.22,481.10 816.20,483.10 822.17,483.10 828.15,468.20 834.12,466.40 840.09,472.30 846.07,475.90 852.04,462.00 858.02,456.10 863.99,457.90 869.96,470.20 875.94,480.50 881.91,474.10 887.89,468.20 893.86,486.20 899.83,479.30 905.81,480.50 911.78,469.00 917.76,462.50 923.73,448.40 929.70,456.20 935.68,448.70 941.65,440.10 947.63,431.50 953.60,419.50 959.57,408.50 965.55,394.60 971.52,358.80 977.50,313.70 983.47,265.90 989.44,261.10 995.42,209.80 1001.39,141.20 1007.37,116.50 1013.34,144.60 1019.31,199.50 1025.29,227.70 1031.26,210.50 1037.24,276.40 1043.21,304.80 1049.18,357.10 1055.16,337.20 1061.13,316.90 1067.11,308.80 1073.08,334.80 1079.05,332.20 1085.03,307.80 1091.00,292.60 1096.97,297.10 1102.95,274.30 1108.92,260.50 1114.90,260.50 1120.87,280.40 1126.85,308.80 1132.82,320.00 1138.79,328.10 1144.77,319.00 1150.74,346.30 1156.72,323.40 1162.69,323.40 1168.66,301.70 1174.64,304.40 1180.61,331.10 1186.59,361.90 1192.56,350.20 1198.53,374.90 1204.51,360.50 1210.48,359.50 1216.46,344.40 1222.43,301.40 1228.40,285.40 1234.38,270.90 1240.35,223.50 1246.33,190.90 1252.30,163.50 1258.27,156.60 1264.25,144.60 1270.22,130.20 1276.20,126.80 1282.17,149.80 1288.14,144.60 1294.12,153.20 1300.09,154.90 1306.07,185.90 1312.04,222.90 1318.01,232.10 1323.99,261.30 1329.96,273.30 1335.94,278.50 1341.91,281.90 1347.88,290.50 1353.86,263.20 1359.83,256.40 1365.81,248.50 1371.78,250.90 1377.75,250.90 1383.73,242.40 1389.70,212.20 1395.68,254.40 1401.65,290.40 1407.62,284.20 1413.60,310.30 1419.57,343.60 1425.55,355.60 1431.52,375.50 1437.49,353.90 1443.47,331.60 1449.44,316.20 1455.42,244.10 1461.39,200.50 1467.36,197.80 1473.34,216.60 1479.31,197.80 1485.29,184.70 1491.26,208.00 1497.23,269.80 1503.21,278.40 1509.18,293.80 1515.16,269.10 1521.13,292.10 1527.10,318.50 1533.08,313.70 1539.05,338.40 1545.03,381.40 1551.00,382.50 1556.97,396.50 1562.95,385.30 1568.92,390.90 1574.89,410.60 1580.87,416.20 1586.84,426.00 1592.82,442.90 1598.79,452.70 1604.77,473.80 1610.74,479.40 1616.71,462.50" fill="none" stroke="#ED7D31" stroke-width="2.1" stroke-linejoin="round" stroke-linecap="round"/>
<line x1="126.20" y1="93.70" x2="126.20" y2="536.90" stroke="#000" stroke-width="1.3"/>
<line x1="119.6" y1="536.40" x2="133.7" y2="536.40" stroke="#000" stroke-width="1.3"/>
<line x1="119.6" y1="518.71" x2="126.20" y2="518.71" stroke="#000" stroke-width="1.3"/>
<line x1="119.6" y1="501.02" x2="126.20" y2="501.02" stroke="#000" stroke-width="1.3"/>
<line x1="119.6" y1="483.34" x2="126.20" y2="483.34" stroke="#000" stroke-width="1.3"/>
<line x1="119.6" y1="465.65" x2="126.20" y2="465.65" stroke="#000" stroke-width="1.3"/>
<line x1="119.6" y1="447.96" x2="133.7" y2="447.96" stroke="#000" stroke-width="1.3"/>
<line x1="119.6" y1="430.27" x2="126.20" y2="430.27" stroke="#000" stroke-width="1.3"/>
<line x1="119.6" y1="412.58" x2="126.20" y2="412.58" stroke="#000" stroke-width="1.3"/>
<line x1="119.6" y1="394.90" x2="126.20" y2="394.90" stroke="#000" stroke-width="1.3"/>
<line x1="119.6" y1="377.21" x2="126.20" y2="377.21" stroke="#000" stroke-width="1.3"/>
<line x1="119.6" y1="359.52" x2="133.7" y2="359.52" stroke="#000" stroke-width="1.3"/>
<line x1="119.6" y1="341.83" x2="126.20" y2="341.83" stroke="#000" stroke-width="1.3"/>
<line x1="119.6" y1="324.14" x2="126.20" y2="324.14" stroke="#000" stroke-width="1.3"/>
<line x1="119.6" y1="306.46" x2="126.20" y2="306.46" stroke="#000" stroke-width="1.3"/>
<line x1="119.6" y1="288.77" x2="126.20" y2="288.77" stroke="#000" stroke-width="1.3"/>
<line x1="119.6" y1="271.08" x2="133.7" y2="271.08" stroke="#000" stroke-width="1.3"/>
<line x1="119.6" y1="253.39" x2="126.20" y2="253.39" stroke="#000" stroke-width="1.3"/>
<line x1="119.6" y1="235.70" x2="126.20" y2="235.70" stroke="#000" stroke-width="1.3"/>
<line x1="119.6" y1="218.02" x2="126.20" y2="218.02" stroke="#000" stroke-width="1.3"/>
<line x1="119.6" y1="200.33" x2="126.20" y2="200.33" stroke="#000" stroke-width="1.3"/>
<line x1="119.6" y1="182.64" x2="133.7" y2="182.64" stroke="#000" stroke-width="1.3"/>
<line x1="119.6" y1="164.95" x2="126.20" y2="164.95" stroke="#000" stroke-width="1.3"/>
<line x1="119.6" y1="147.26" x2="126.20" y2="147.26" stroke="#000" stroke-width="1.3"/>
<line x1="119.6" y1="129.58" x2="126.20" y2="129.58" stroke="#000" stroke-width="1.3"/>
<line x1="119.6" y1="111.89" x2="126.20" y2="111.89" stroke="#000" stroke-width="1.3"/>
<line x1="119.6" y1="94.20" x2="133.7" y2="94.20" stroke="#000" stroke-width="1.3"/>
<line x1="119.6" y1="536.40" x2="1667.49" y2="536.40" stroke="#000" stroke-width="1.3"/>
<line x1="126.20" y1="536.40" x2="126.20" y2="542.00" stroke="#000" stroke-width="1.3"/>
<line x1="168.02" y1="536.40" x2="168.02" y2="542.00" stroke="#000" stroke-width="1.3"/>
<line x1="209.84" y1="536.40" x2="209.84" y2="542.00" stroke="#000" stroke-width="1.3"/>
<line x1="251.65" y1="536.40" x2="251.65" y2="542.00" stroke="#000" stroke-width="1.3"/>
<line x1="293.47" y1="536.40" x2="293.47" y2="542.00" stroke="#000" stroke-width="1.3"/>
<line x1="335.29" y1="536.40" x2="335.29" y2="542.00" stroke="#000" stroke-width="1.3"/>
<line x1="377.11" y1="536.40" x2="377.11" y2="542.00" stroke="#000" stroke-width="1.3"/>
<line x1="418.93" y1="536.40" x2="418.93" y2="542.00" stroke="#000" stroke-width="1.3"/>
<line x1="460.74" y1="536.40" x2="460.74" y2="542.00" stroke="#000" stroke-width="1.3"/>
<line x1="502.56" y1="536.40" x2="502.56" y2="542.00" stroke="#000" stroke-width="1.3"/>
<line x1="544.38" y1="536.40" x2="544.38" y2="542.00" stroke="#000" stroke-width="1.3"/>
<line x1="586.20" y1="536.40" x2="586.20" y2="542.00" stroke="#000" stroke-width="1.3"/>
<line x1="628.02" y1="536.40" x2="628.02" y2="542.00" stroke="#000" stroke-width="1.3"/>
<line x1="669.83" y1="536.40" x2="669.83" y2="542.00" stroke="#000" stroke-width="1.3"/>
<line x1="711.65" y1="536.40" x2="711.65" y2="542.00" stroke="#000" stroke-width="1.3"/>
<line x1="753.47" y1="536.40" x2="753.47" y2="542.00" stroke="#000" stroke-width="1.3"/>
<line x1="795.29" y1="536.40" x2="795.29" y2="542.00" stroke="#000" stroke-width="1.3"/>
<line x1="837.11" y1="536.40" x2="837.11" y2="542.00" stroke="#000" stroke-width="1.3"/>
<line x1="878.92" y1="536.40" x2="878.92" y2="542.00" stroke="#000" stroke-width="1.3"/>
<line x1="920.74" y1="536.40" x2="920.74" y2="542.00" stroke="#000" stroke-width="1.3"/>
<line x1="962.56" y1="536.40" x2="962.56" y2="542.00" stroke="#000" stroke-width="1.3"/>
<line x1="1004.38" y1="536.40" x2="1004.38" y2="542.00" stroke="#000" stroke-width="1.3"/>
<line x1="1046.20" y1="536.40" x2="1046.20" y2="542.00" stroke="#000" stroke-width="1.3"/>
<line x1="1088.01" y1="536.40" x2="1088.01" y2="542.00" stroke="#000" stroke-width="1.3"/>
<line x1="1129.83" y1="536.40" x2="1129.83" y2="542.00" stroke="#000" stroke-width="1.3"/>
<line x1="1171.65" y1="536.40" x2="1171.65" y2="542.00" stroke="#000" stroke-width="1.3"/>
<line x1="1213.47" y1="536.40" x2="1213.47" y2="542.00" stroke="#000" stroke-width="1.3"/>
<line x1="1255.29" y1="536.40" x2="1255.29" y2="542.00" stroke="#000" stroke-width="1.3"/>
<line x1="1297.10" y1="536.40" x2="1297.10" y2="542.00" stroke="#000" stroke-width="1.3"/>
<line x1="1338.92" y1="536.40" x2="1338.92" y2="542.00" stroke="#000" stroke-width="1.3"/>
<line x1="1380.74" y1="536.40" x2="1380.74" y2="542.00" stroke="#000" stroke-width="1.3"/>
<line x1="1422.56" y1="536.40" x2="1422.56" y2="542.00" stroke="#000" stroke-width="1.3"/>
<line x1="1464.38" y1="536.40" x2="1464.38" y2="542.00" stroke="#000" stroke-width="1.3"/>
<line x1="1506.19" y1="536.40" x2="1506.19" y2="542.00" stroke="#000" stroke-width="1.3"/>
<line x1="1548.01" y1="536.40" x2="1548.01" y2="542.00" stroke="#000" stroke-width="1.3"/>
<line x1="1589.83" y1="536.40" x2="1589.83" y2="542.00" stroke="#000" stroke-width="1.3"/>
<line x1="1631.65" y1="536.40" x2="1631.65" y2="542.00" stroke="#000" stroke-width="1.3"/>
<line x1="1667.69" y1="94.20" x2="1667.69" y2="536.40" stroke="#BFBFBF" stroke-width="1.2"/>
<line x1="1667.49" y1="536.40" x2="1674.49" y2="536.40" stroke="#BFBFBF" stroke-width="1.2"/>
<line x1="1667.49" y1="462.70" x2="1674.49" y2="462.70" stroke="#BFBFBF" stroke-width="1.2"/>
<line x1="1667.49" y1="389.00" x2="1674.49" y2="389.00" stroke="#BFBFBF" stroke-width="1.2"/>
<line x1="1667.49" y1="315.30" x2="1674.49" y2="315.30" stroke="#BFBFBF" stroke-width="1.2"/>
<line x1="1667.49" y1="241.60" x2="1674.49" y2="241.60" stroke="#BFBFBF" stroke-width="1.2"/>
<line x1="1667.49" y1="167.90" x2="1674.49" y2="167.90" stroke="#BFBFBF" stroke-width="1.2"/>
<line x1="1667.49" y1="94.20" x2="1674.49" y2="94.20" stroke="#BFBFBF" stroke-width="1.2"/>
<text x="106.4" y="543.40" text-anchor="end" font-size="21" fill="#3a3a3a">0</text>
<text x="106.4" y="454.96" text-anchor="end" font-size="21" fill="#3a3a3a">5</text>
<text x="106.4" y="366.52" text-anchor="end" font-size="21" fill="#3a3a3a">10</text>
<text x="106.4" y="278.08" text-anchor="end" font-size="21" fill="#3a3a3a">15</text>
<text x="106.4" y="189.64" text-anchor="end" font-size="21" fill="#3a3a3a">20</text>
<text x="106.4" y="101.20" text-anchor="end" font-size="21" fill="#3a3a3a">25</text>
<text x="1687.5" y="543.40" text-anchor="start" font-size="21" fill="#3a3a3a">0</text>
<text x="1687.5" y="469.70" text-anchor="start" font-size="21" fill="#3a3a3a">5</text>
<text x="1687.5" y="396.00" text-anchor="start" font-size="21" fill="#3a3a3a">10</text>
<text x="1687.5" y="322.30" text-anchor="start" font-size="21" fill="#3a3a3a">15</text>
<text x="1687.5" y="248.60" text-anchor="start" font-size="21" fill="#3a3a3a">20</text>
<text x="1687.5" y="174.90" text-anchor="start" font-size="21" fill="#3a3a3a">25</text>
<text x="1687.5" y="101.20" text-anchor="start" font-size="21" fill="#3a3a3a">30</text>
<text transform="translate(132.20,559.60) rotate(-45)" text-anchor="end" font-size="15.8" fill="#3a3a3a">01-10-20</text>
<text transform="translate(174.02,559.60) rotate(-45)" text-anchor="end" font-size="15.8" fill="#3a3a3a">08-10-20</text>
<text transform="translate(215.84,559.60) rotate(-45)" text-anchor="end" font-size="15.8" fill="#3a3a3a">15-10-20</text>
<text transform="translate(257.65,559.60) rotate(-45)" text-anchor="end" font-size="15.8" fill="#3a3a3a">22-10-20</text>
<text transform="translate(299.47,559.60) rotate(-45)" text-anchor="end" font-size="15.8" fill="#3a3a3a">29-10-20</text>
<text transform="translate(341.29,559.60) rotate(-45)" text-anchor="end" font-size="15.8" fill="#3a3a3a">05-11-20</text>
<text transform="translate(383.11,559.60) rotate(-45)" text-anchor="end" font-size="15.8" fill="#3a3a3a">12-11-20</text>
<text transform="translate(424.93,559.60) rotate(-45)" text-anchor="end" font-size="15.8" fill="#3a3a3a">19-11-20</text>
<text transform="translate(466.74,559.60) rotate(-45)" text-anchor="end" font-size="15.8" fill="#3a3a3a">26-11-20</text>
<text transform="translate(508.56,559.60) rotate(-45)" text-anchor="end" font-size="15.8" fill="#3a3a3a">03-12-20</text>
<text transform="translate(550.38,559.60) rotate(-45)" text-anchor="end" font-size="15.8" fill="#3a3a3a">10-12-20</text>
<text transform="translate(592.20,559.60) rotate(-45)" text-anchor="end" font-size="15.8" fill="#3a3a3a">17-12-20</text>
<text transform="translate(634.02,559.60) rotate(-45)" text-anchor="end" font-size="15.8" fill="#3a3a3a">24-12-20</text>
<text transform="translate(675.83,559.60) rotate(-45)" text-anchor="end" font-size="15.8" fill="#3a3a3a">31-12-20</text>
<text transform="translate(717.65,559.60) rotate(-45)" text-anchor="end" font-size="15.8" fill="#3a3a3a">07-01-21</text>
<text transform="translate(759.47,559.60) rotate(-45)" text-anchor="end" font-size="15.8" fill="#3a3a3a">14-01-21</text>
<text transform="translate(801.29,559.60) rotate(-45)" text-anchor="end" font-size="15.8" fill="#3a3a3a">21-01-21</text>
<text transform="translate(843.11,559.60) rotate(-45)" text-anchor="end" font-size="15.8" fill="#3a3a3a">28-01-21</text>
<text transform="translate(884.92,559.60) rotate(-45)" text-anchor="end" font-size="15.8" fill="#3a3a3a">04-02-21</text>
<text transform="translate(926.74,559.60) rotate(-45)" text-anchor="end" font-size="15.8" fill="#3a3a3a">11-02-21</text>
<text transform="translate(968.56,559.60) rotate(-45)" text-anchor="end" font-size="15.8" fill="#3a3a3a">18-02-21</text>
<text transform="translate(1010.38,559.60) rotate(-45)" text-anchor="end" font-size="15.8" fill="#3a3a3a">25-02-21</text>
<text transform="translate(1052.20,559.60) rotate(-45)" text-anchor="end" font-size="15.8" fill="#3a3a3a">04-03-21</text>
<text transform="translate(1094.01,559.60) rotate(-45)" text-anchor="end" font-size="15.8" fill="#3a3a3a">11-03-21</text>
<text transform="translate(1135.83,559.60) rotate(-45)" text-anchor="end" font-size="15.8" fill="#3a3a3a">18-03-21</text>
<text transform="translate(1177.65,559.60) rotate(-45)" text-anchor="end" font-size="15.8" fill="#3a3a3a">25-03-21</text>
<text transform="translate(1219.47,559.60) rotate(-45)" text-anchor="end" font-size="15.8" fill="#3a3a3a">01-04-21</text>
<text transform="translate(1261.29,559.60) rotate(-45)" text-anchor="end" font-size="15.8" fill="#3a3a3a">08-04-21</text>
<text transform="translate(1303.10,559.60) rotate(-45)" text-anchor="end" font-size="15.8" fill="#3a3a3a">15-04-21</text>
<text transform="translate(1344.92,559.60) rotate(-45)" text-anchor="end" font-size="15.8" fill="#3a3a3a">22-04-21</text>
<text transform="translate(1386.74,559.60) rotate(-45)" text-anchor="end" font-size="15.8" fill="#3a3a3a">29-04-21</text>
<text transform="translate(1428.56,559.60) rotate(-45)" text-anchor="end" font-size="15.8" fill="#3a3a3a">06-05-21</text>
<text transform="translate(1470.38,559.60) rotate(-45)" text-anchor="end" font-size="15.8" fill="#3a3a3a">13-05-21</text>
<text transform="translate(1512.19,559.60) rotate(-45)" text-anchor="end" font-size="15.8" fill="#3a3a3a">20-05-21</text>
<text transform="translate(1554.01,559.60) rotate(-45)" text-anchor="end" font-size="15.8" fill="#3a3a3a">27-05-21</text>
<text transform="translate(1595.83,559.60) rotate(-45)" text-anchor="end" font-size="15.8" fill="#3a3a3a">03-06-21</text>
<text transform="translate(1637.65,559.60) rotate(-45)" text-anchor="end" font-size="15.8" fill="#3a3a3a">10-06-21</text>
<text transform="translate(23.7,285.5) rotate(-90)" text-anchor="middle" font-size="20" fill="#3a3a3a" textLength="286" lengthAdjust="spacing">Ρυθμός μεταβολής κρουσμάτων</text>
<text transform="translate(1755.9,291.2) rotate(-90)" text-anchor="middle" font-size="20" fill="#3a3a3a" textLength="223.7" lengthAdjust="spacing">Κρούσματα ανά 100.000</text>
<rect x="86" y="20" width="34" height="11.2" fill="#A0A0A0"/>
<line x1="86" y1="60.2" x2="120" y2="60.2" stroke="#ED7D31" stroke-width="2.4"/>
<line x1="906.8" y1="25.8" x2="941.2" y2="25.8" stroke="#4472C4" stroke-width="2.4"/>
<line x1="908.3" y1="60.2" x2="940" y2="60.2" stroke="#E80000" stroke-width="4.2" stroke-linecap="round" stroke-dasharray="11.7 16.3"/>
<text x="124.0" y="32.8" font-size="20.5" fill="#3a3a3a" textLength="550.5" lengthAdjust="spacing">Κρούσματα ανά 100.000 (Κυλιόμενος μέσος όρος 7 ημερών)</text>
<text x="124.0" y="67.0" font-size="20.5" fill="#3a3a3a" textLength="663.6" lengthAdjust="spacing">Ρυθμός μεταβολής επιβεβαιωμένων κρουσμάτων (7days moving average)</text>
<text x="944.2" y="32.8" font-size="20.5" fill="#3a3a3a" textLength="600.3" lengthAdjust="spacing">Ρυθμός μεταβολής κρουσμάτων μοντέλου (7days moving average)</text>
<text x="944.2" y="67.0" font-size="20.5" fill="#3a3a3a" textLength="329.0" lengthAdjust="spacing">Όριο μετάβασης σε κόκκινη περιοχή</text>
</svg>
</body></html>
